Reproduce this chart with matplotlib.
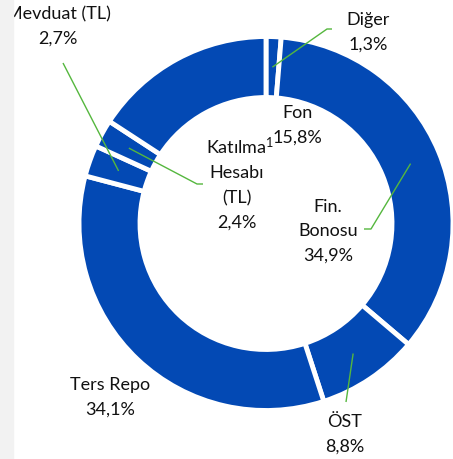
import matplotlib
matplotlib.use('Agg')
import matplotlib.pyplot as plt
from matplotlib.patches import Rectangle
import numpy as np

plt.rcParams['mathtext.fontset'] = 'custom'
plt.rcParams['mathtext.rm'] = 'Lato'
plt.rcParams['mathtext.it'] = 'Lato:italic'
plt.rcParams['mathtext.bf'] = 'Lato:bold'

# ---- data ----
categories = ['Diğer', 'Fin. Bonosu', 'ÖST', 'Ters Repo', 'Mevduat (TL)', 'Katılma Hesabı (TL)', 'Fon']
shares = [1.3, 34.9, 8.8, 34.1, 2.7, 2.4, 15.8]
label_lines = [
    ['Diğer', '1,3%'],
    ['Fin.', 'Bonosu', '34,9%'],
    ['ÖST', '8,8%'],
    ['Ters Repo', '34,1%'],
    ['Mevduat (TL)', '2,7%'],
    ['Katılma$^{\\mathrm{1}}$', 'Hesabı', '(TL)', '2,4%'],
    ['Fon', '15,8%'],
]

# ---- layout (pixel coordinates, image y measured from top) ----
W, H = 453, 459
FONT = 'Lato'
BLUE = '#0349B4'
GREEN = '#55B73E'
label_pos = [  # (center x, first baseline y)
    (368, 25),
    (328, 212),
    (345, 427),
    (110, 390),
    (58, 19),
    (237, 154),
    (297, 118),
]
line_x_shift = {(5, 0): 3}  # small nudge for the footnoted line
leader_pts = [  # extra polyline points beyond the wedge anchor
    [(327, 29), (332, 29)],
    [(371, 229), (364, 229)],
    [(346, 402)],
    None,
    [(63, 63)],
    [(197, 184), (203, 184)],
    None,
]
LINE_STEP = 24.5

fig = plt.figure(figsize=(W / 100, H / 100), dpi=100)
fig.patches.append(Rectangle((0, 0), 13 / W, 1, transform=fig.transFigure,
                             color='#F2F2F2', zorder=0))
ax = fig.add_axes([0, 0, 1, 1])
ax.patch.set_alpha(0)

cx, cy = 266, H - 223.5
R, width = 187, 61
wedges, _ = ax.pie(shares, radius=R, center=(cx, cy), startangle=90, counterclock=False,
                   colors=[BLUE] * len(shares),
                   wedgeprops=dict(width=width, edgecolor='white', linewidth=3.5))
ax.set_xlim(0, W)
ax.set_ylim(0, H)
ax.set_aspect('auto')
ax.axis('off')

r_anchor = R - width / 2
for wdg, pts in zip(wedges, leader_pts):
    if pts is None:
        continue
    mid = np.deg2rad((wdg.theta1 + wdg.theta2) / 2)
    xs = [cx + r_anchor * np.cos(mid)] + [p[0] for p in pts]
    ys = [cy + r_anchor * np.sin(mid)] + [H - p[1] for p in pts]
    ax.plot(xs, ys, color=GREEN, lw=1.0, solid_capstyle='butt')

for k, (lines, (x, y0)) in enumerate(zip(label_lines, label_pos)):
    for i, ln in enumerate(lines):
        ax.text(x + line_x_shift.get((k, i), 0), H - (y0 + i * LINE_STEP), ln,
                ha='center', va='baseline', fontsize=13, family=FONT, color='#111111')

fig.savefig('out.png', dpi=100)
